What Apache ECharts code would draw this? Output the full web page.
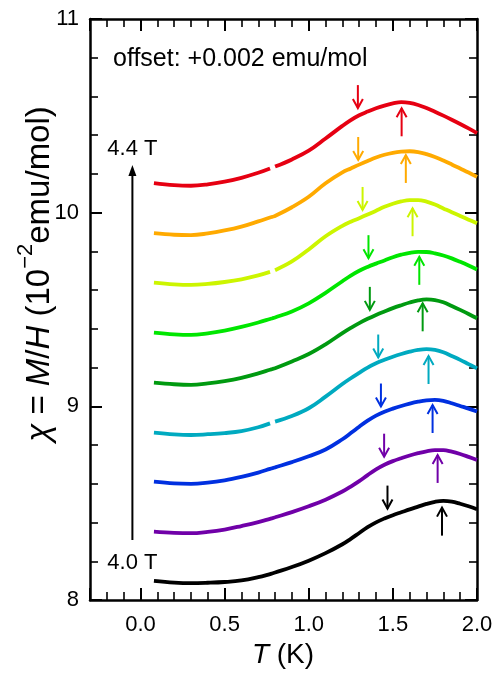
<!DOCTYPE html>
<html>
<head>
<meta charset="utf-8">
<script src="https://cdn.jsdelivr.net/npm/echarts@6/dist/echarts.min.js"></script>
<style>
  html, body { margin: 0; padding: 0; background: #fff; }
  #main { width: 497px; height: 675px; }
</style>
</head>
<body>
<div id="main"></div>
<script>
// temperature grid (K); 0.785 marks the small hole some runs have
const temps = [0.08, 0.2, 0.3, 0.4, 0.5, 0.6, 0.7, 0.77, 0.785, 0.8, 0.9, 1.0, 1.1, 1.2, 1.25, 1.3, 1.35, 1.4, 1.45, 1.5, 1.55, 1.6, 1.65, 1.7, 1.75, 1.8, 1.85, 1.9, 1.95, 2.0];

// chi = M/H in 1e-2 emu/mol, already offset by +0.002 per step
const chi400 = [8.099, 8.090, 8.087, 8.089, 8.093, 8.101, 8.118, 8.134, 8.138, 8.142, 8.170, 8.203, 8.242, 8.288, 8.316, 8.346, 8.376, 8.401, 8.421, 8.438, 8.453, 8.468, 8.482, 8.496, 8.507, 8.512, 8.508, 8.497, 8.484, 8.469];
const chi405 = [8.353, 8.347, 8.345, 8.352, 8.364, 8.382, 8.402, 8.419, 8.423, 8.427, 8.454, 8.484, 8.518, 8.560, 8.586, 8.614, 8.645, 8.674, 8.698, 8.717, 8.732, 8.746, 8.758, 8.768, 8.774, 8.774, 8.766, 8.754, 8.739, 8.723];
const chi410 = [8.611, 8.602, 8.600, 8.606, 8.618, 8.636, 8.658, 8.677, 8.681, 8.685, 8.712, 8.742, 8.777, 8.830, 8.862, 8.895, 8.926, 8.952, 8.972, 8.988, 9.002, 9.014, 9.024, 9.031, 9.033, 9.028, 9.016, 9.002, 8.988, 8.973];
const chi415 = [8.864, 8.855, 8.852, 8.856, 8.862, 8.872, 8.892, 8.912, null, 8.921, 8.950, 8.990, 9.050, 9.115, 9.145, 9.173, 9.200, 9.222, 9.240, 9.256, 9.270, 9.282, 9.291, 9.295, 9.291, 9.279, 9.260, 9.240, 9.218, 9.196];
const chi420 = [9.122, 9.114, 9.111, 9.118, 9.130, 9.147, 9.170, 9.189, 9.193, 9.197, 9.232, 9.270, 9.320, 9.378, 9.405, 9.430, 9.452, 9.472, 9.490, 9.507, 9.522, 9.536, 9.547, 9.552, 9.549, 9.537, 9.518, 9.498, 9.477, 9.455];
const chi425 = [9.381, 9.372, 9.369, 9.377, 9.391, 9.410, 9.433, 9.451, 9.455, 9.459, 9.490, 9.532, 9.586, 9.646, 9.675, 9.700, 9.720, 9.737, 9.753, 9.770, 9.783, 9.793, 9.798, 9.797, 9.790, 9.779, 9.764, 9.746, 9.727, 9.707];
const chi430 = [9.639, 9.630, 9.627, 9.632, 9.642, 9.656, 9.676, 9.694, null, 9.703, 9.748, 9.810, 9.878, 9.932, 9.953, 9.971, 9.990, 10.010, 10.030, 10.046, 10.058, 10.065, 10.065, 10.057, 10.042, 10.022, 10.002, 9.983, 9.964, 9.945];
const chi435 = [9.894, 9.886, 9.884, 9.893, 9.908, 9.928, 9.955, 9.975, 9.979, 9.983, 10.028, 10.082, 10.152, 10.208, 10.228, 10.248, 10.267, 10.285, 10.299, 10.309, 10.315, 10.317, 10.313, 10.302, 10.287, 10.269, 10.249, 10.228, 10.207, 10.185];
const chi440 = [10.153, 10.142, 10.139, 10.146, 10.160, 10.180, 10.206, 10.228, null, 10.238, 10.275, 10.320, 10.383, 10.448, 10.478, 10.503, 10.522, 10.539, 10.553, 10.564, 10.571, 10.567, 10.556, 10.540, 10.521, 10.501, 10.480, 10.458, 10.435, 10.411];

const runs = [chi400, chi405, chi410, chi415, chi420, chi425, chi430, chi435, chi440];
const fieldNames = ['4.00 T', '4.05 T', '4.10 T', '4.15 T', '4.20 T', '4.25 T', '4.30 T', '4.35 T', '4.40 T'];
const colors = ['#000000', '#7000a8', '#0030e0', '#00aac0', '#009a10', '#00e600', '#ccf500', '#ffaa00', '#e60012'];

// down arrows (shoulder) and up arrows (maximum): T and arrow-tip value
const shoulderT   = [1.468, 1.448, 1.429, 1.413, 1.363, 1.355, 1.320, 1.294, 1.292];
const shoulderTip = [8.472, 8.740, 8.999, 9.252, 9.498, 9.765, 10.014, 10.272, 10.540];
const peakT   = [1.792, 1.766, 1.736, 1.712, 1.677, 1.657, 1.617, 1.577, 1.552];
const peakTip = [8.477, 8.749, 9.007, 9.260, 9.532, 9.772, 10.023, 10.298, 10.539];

// field sweep arrow on the left
const sweepT = -0.048;
const sweepFrom = 8.31;
const sweepTo = 10.246;
const sweepLabels = ['4.0 T', '4.4 T'];
const sweepLabelY = [8.19, 10.33];

const xTicks = [0, 0.5, 1, 1.5, 2];
const yTicks = [8, 9, 10, 11];

const font = '"Liberation Sans", Arial, Helvetica, sans-serif';

const myChart = echarts.init(document.getElementById('main'));

const lineSeries = runs.map(function (vals, i) {
  return {
    name: fieldNames[i],
    type: 'line',
    data: temps.map(function (t, k) { return [t, vals[k] === null ? '-' : vals[k]]; }),
    smooth: 0.4,
    showSymbol: false,
    connectNulls: false,
    lineStyle: { color: colors[i], width: 3.8, cap: 'butt' },
    itemStyle: { color: colors[i] },
    z: 3,
    animation: false
  };
});

const arrowData = [];
for (let i = 0; i < runs.length; i++) {
  arrowData.push([shoulderT[i], shoulderTip[i], -1, i]);
  arrowData.push([peakT[i], peakTip[i], 1, i]);
}

function axisBase() {
  return {
    type: 'value',
    axisLine: { show: true, onZero: false, lineStyle: { color: '#000', width: 2.5 } },
    axisTick: { show: true, inside: true, length: 12, lineStyle: { color: '#000', width: 2 } },
    minorTick: { show: true, splitNumber: 5, length: 8, lineStyle: { color: '#000', width: 1.6 } },
    splitLine: { show: false },
    minorSplitLine: { show: false }
  };
}

const option = {
  animation: false,
  backgroundColor: '#fff',
  grid: { left: 90, right: 20, top: 19, bottom: 75, containLabel: false },
  xAxis: [
    Object.assign(axisBase(), {
      min: -0.3, max: 2.0, splitNumber: 5, position: 'bottom',
      axisLabel: {
        margin: 14, fontSize: 22, fontFamily: font, color: '#000',
        formatter: function (v) { return xTicks.indexOf(+v.toFixed(2)) >= 0 ? v.toFixed(1) : ''; }
      }
    }),
    Object.assign(axisBase(), {
      min: -0.3, max: 2.0, splitNumber: 5, position: 'top',
      axisLabel: { show: false }
    })
  ],
  yAxis: [
    Object.assign(axisBase(), {
      min: 8, max: 11, interval: 1, position: 'left',
      axisLabel: {
        margin: 11, fontSize: 22, fontFamily: font, color: '#000',
        formatter: function (v) { return yTicks.indexOf(v) >= 0 ? String(v) : ''; }
      }
    }),
    Object.assign(axisBase(), {
      min: 8, max: 11, interval: 1, position: 'right',
      axisLabel: { show: false }
    })
  ],
  graphic: [
    {
      type: 'text', x: 113, y: 59,
      style: {
        text: 'offset: +0.002 emu/mol', fill: '#000',
        font: '25px ' + font, align: 'left', verticalAlign: 'middle',
        textAlign: 'left', textVerticalAlign: 'middle'
      }
    },
    {
      type: 'text', x: 40, y: 274, rotation: Math.PI / 2,
      style: {
        text: '{i|χ}{n| = }{i|M}{n|/}{i|H}{n| (10}{s|−2}{n|emu/mol)}',
        align: 'center', verticalAlign: 'middle',
        textAlign: 'center', textVerticalAlign: 'middle',
        rich: {
          i: { fontStyle: 'italic', fontSize: 33, fontFamily: font, fill: '#000', color: '#000', lineHeight: 50 },
          n: { fontSize: 33, fontFamily: font, fill: '#000', color: '#000', lineHeight: 50 },
          s: { fontSize: 22, fontFamily: font, fill: '#000', color: '#000', lineHeight: 22, verticalAlign: 'top' }
        }
      }
    },
    {
      type: 'text', x: 283, y: 655,
      style: {
        text: '{i|T}{n| (K)}',
        align: 'center', verticalAlign: 'middle',
        textAlign: 'center', textVerticalAlign: 'middle',
        rich: {
          i: { fontStyle: 'italic', fontSize: 28, fontFamily: font, fill: '#000', color: '#000' },
          n: { fontSize: 28, fontFamily: font, fill: '#000', color: '#000' }
        }
      }
    }
  ],
  series: lineSeries.concat([
    {
      type: 'custom',
      name: 'arrows',
      data: arrowData,
      z: 4,
      silent: true,
      animation: false,
      clip: false,
      renderItem: function (params, api) {
        const p = api.coord([api.value(0), api.value(1)]);
        const dir = api.value(2);
        const c = colors[api.value(3)];
        const len = dir < 0 ? 23 : 28;
        const hw = 5, hl = 9;
        return {
          type: 'group',
          children: [
            { type: 'line', shape: { x1: p[0], y1: p[1] + dir * len, x2: p[0], y2: p[1] }, style: { stroke: c, lineWidth: 2 } },
            { type: 'polyline', shape: { points: [[p[0] - hw, p[1] + dir * hl], [p[0], p[1]], [p[0] + hw, p[1] + dir * hl]] }, style: { stroke: c, lineWidth: 2, fill: null } }
          ]
        };
      }
    },
    {
      type: 'custom',
      name: 'sweep',
      data: [[sweepT, sweepFrom, sweepTo]],
      z: 4,
      silent: true,
      animation: false,
      clip: false,
      renderItem: function (params, api) {
        const a = api.coord([api.value(0), api.value(1)]);
        const b = api.coord([api.value(0), api.value(2)]);
        const lo = api.coord([api.value(0), sweepLabelY[0]]);
        const hi = api.coord([api.value(0), sweepLabelY[1]]);
        return {
          type: 'group',
          children: [
            { type: 'line', shape: { x1: a[0], y1: a[1], x2: b[0], y2: b[1] + 6 }, style: { stroke: '#000', lineWidth: 2 } },
            { type: 'polygon', shape: { points: [[b[0] - 4, b[1] + 11], [b[0], b[1]], [b[0] + 4, b[1] + 11]] }, style: { fill: '#000' } },
            { type: 'text', x: lo[0], y: lo[1], style: { text: sweepLabels[0], font: '22px ' + font, fill: '#000', align: 'center', verticalAlign: 'middle', textAlign: 'center', textVerticalAlign: 'middle' } },
            { type: 'text', x: hi[0], y: hi[1], style: { text: sweepLabels[1], font: '22px ' + font, fill: '#000', align: 'center', verticalAlign: 'middle', textAlign: 'center', textVerticalAlign: 'middle' } }
          ]
        };
      }
    }
  ])
};

myChart.setOption(option);
</script>
</body>
</html>
